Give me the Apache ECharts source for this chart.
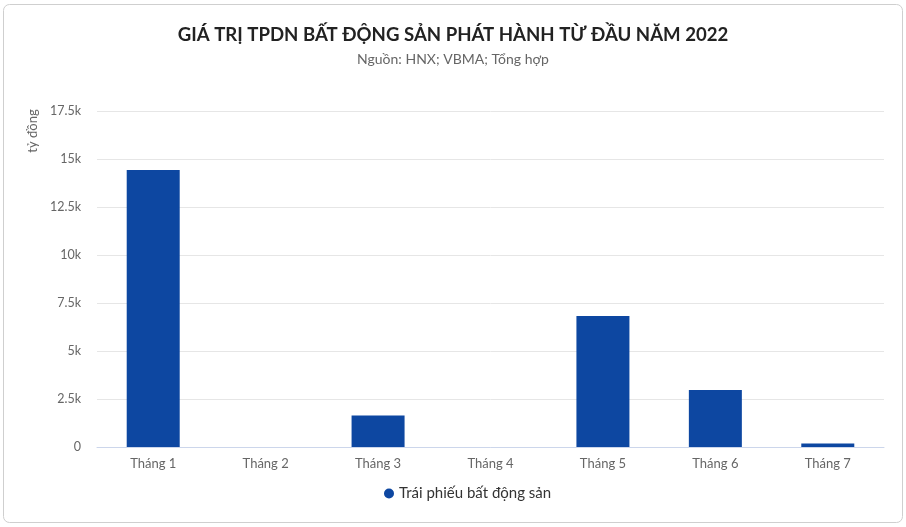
<!DOCTYPE html>
<html>
<head>
<meta charset="utf-8">
<script src="https://cdn.jsdelivr.net/npm/echarts@6/dist/echarts.min.js"></script>
<style>html,body{margin:0;padding:0;background:#fff;}#c{width:906px;height:527px;}</style>
</head>
<body>
<div id="c"></div>
<script>
const categories = ['Tháng 1','Tháng 2','Tháng 3','Tháng 4','Tháng 5','Tháng 6','Tháng 7'];
const seriesName = 'Trái phiếu bất động sản';
const values = [14430, 0, 1640, 0, 6820, 2970, 180];
const yTicks = { min: 0, max: 17500, interval: 2500 };

const chart = echarts.init(document.getElementById('c'));
const FONT = 'Lato, "Noto Sans", sans-serif';
chart.setOption({
  backgroundColor: '#fff',
  textStyle: { fontFamily: FONT },
  title: {
    text: 'GIÁ TRỊ TPDN BẤT ĐỘNG SẢN PHÁT HÀNH TỪ ĐẦU NĂM 2022',
    subtext: 'Nguồn: HNX; VBMA; Tổng hợp',
    left: 'center', top: 20, itemGap: 8,
    textStyle: { fontFamily: FONT, fontSize: 18.6, fontWeight: 'bold', color: '#222' },
    subtextStyle: { fontFamily: FONT, fontSize: 14, color: '#666' }
  },
  legend: {
    bottom: 21, left: 379, icon: 'circle', itemWidth: 10, itemHeight: 10, itemGap: 5,
    textStyle: { fontFamily: FONT, fontSize: 15, color: '#333' },
    data: [seriesName]
  },
  grid: { left: 97, right: 22, top: 111, bottom: 80 },
  xAxis: {
    type: 'category', data: categories,
    axisLine: { lineStyle: { color: '#ccd6eb' } },
    axisTick: { show: false },
    axisLabel: { fontFamily: FONT, fontSize: 13, color: '#666', margin: 10 }
  },
  yAxis: {
    type: 'value', min: yTicks.min, max: yTicks.max, interval: yTicks.interval,
    axisLabel: {
      fontFamily: FONT, fontSize: 12.5, color: '#666', margin: 16,
      formatter: v => v === 0 ? '0' : (v / 1000) + 'k'
    },
    splitLine: { lineStyle: { color: '#e6e6e6' } }
  },
  graphic: [
    { type: 'rect', shape: { x: 3.5, y: 4.5, width: 899, height: 518, r: 6 },
      style: { fill: 'none', stroke: '#cfcfcf', lineWidth: 1 }, silent: true },
    { type: 'text', x: 33, y: 131, rotation: Math.PI / 2,
      style: { text: 'tỷ đồng', fill: '#666', font: '13px ' + FONT, textAlign: 'center', textVerticalAlign: 'middle' } }
  ],
  series: [{
    name: seriesName, type: 'bar', data: values,
    barWidth: 53,
    itemStyle: { color: '#0d47a1' }
  }]
});
</script>
</body>
</html>
